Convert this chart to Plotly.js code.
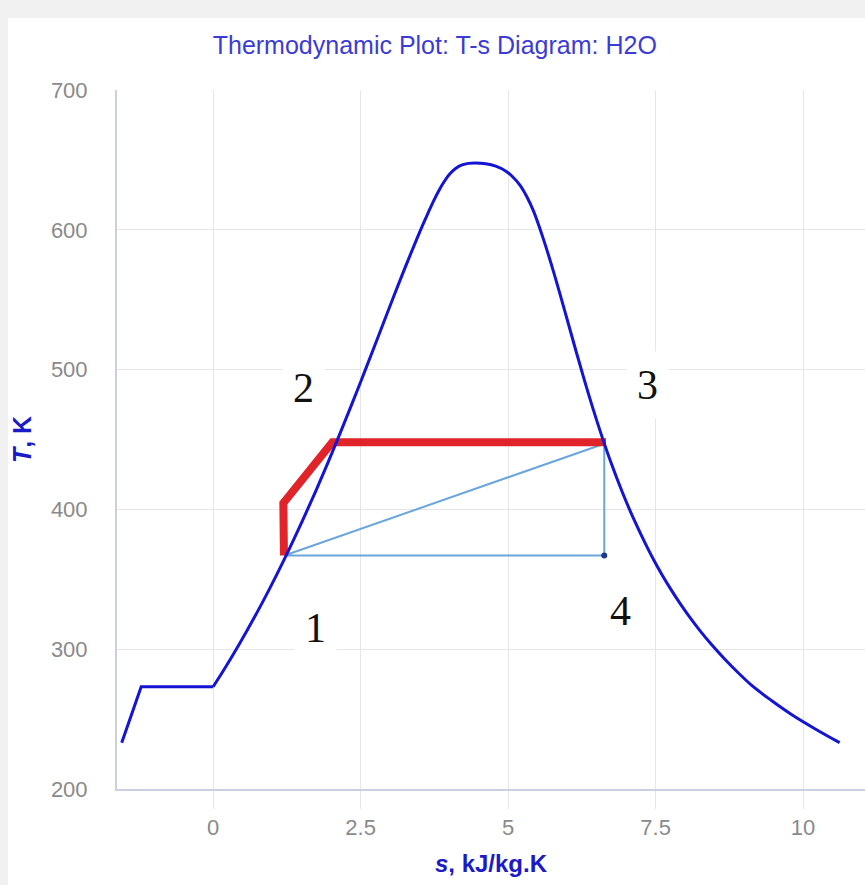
<!DOCTYPE html>
<html><head><meta charset="utf-8">
<script src="https://cdn.plot.ly/plotly-3.0.1.min.js"></script>
<style>
html,body{margin:0;padding:0;background:#f1f1f1;width:865px;height:885px;overflow:hidden}
#chart{position:absolute;left:8px;top:18px;width:857px;height:867px;background:#fff}
</style>
</head><body><div id="chart"></div>
<script>
// Ice heating + melting (solid region)
const iceS = [-1.55, -1.22, 0.0];
const iceT = [233.15, 273.16, 273.16];
// Saturated liquid line (T in K, s in kJ/kg.K)
const liqT = [273.16, 283.15, 293.15, 303.15, 313.15, 323.15, 333.15, 343.15, 353.15, 363.15, 373.15, 393.15, 413.15, 433.15, 453.15, 473.15, 493.15, 513.15, 533.15, 553.15, 573.15, 593.15, 603.2, 612.7, 620.9, 628.3, 634.7, 639.9, 643.9, 646.4, 647.5, 647.8];
const liqS = [0.0, 0.151, 0.2965, 0.4367, 0.5724, 0.7038, 0.8313, 0.9551, 1.0756, 1.1929, 1.3072, 1.5279, 1.7392, 1.9426, 2.1392, 2.3305, 2.5177, 2.702, 2.8849, 3.0683, 3.2552, 3.4494, 3.55, 3.65, 3.74, 3.83, 3.92, 4.01, 4.11, 4.22, 4.33, 4.44];
// Saturated vapour line (from critical point down)
const vapT = [647.8, 647.3, 645.6, 642.3, 637.8, 632.0, 623.5, 613.15, 593.15, 573.15, 553.15, 533.15, 513.15, 493.15, 473.15, 453.15, 433.15, 413.15, 393.15, 373.15, 363.15, 353.15, 343.15, 333.15, 323.15, 313.15, 303.15, 293.15, 283.15, 273.16];
const vapS = [4.44, 4.62, 4.79, 4.95, 5.08, 5.2, 5.32, 5.433, 5.6, 5.748, 5.886, 6.019, 6.152, 6.288, 6.431, 6.583, 6.747, 6.928, 7.129, 7.354, 7.478, 7.611, 7.754, 7.908, 8.075, 8.255, 8.452, 8.666, 8.9, 9.155];
// Sublimation vapour line below triple point
const subT = [263.15, 253.15, 243.15, 233.15];
const subS = [9.47, 9.81, 10.2, 10.62];
// Heating process 1-2-3 (red)
const heatS = [1.2, 1.19, 2.02, 6.66];
const heatT = [367, 404.5, 448, 448];
// Cycle lines 3-1-4-3 (light blue)
const cycleS = [6.63, 1.21, 6.63, 6.63];
const cycleT = [447, 367, 367, 447];
const point4S = [6.63];
const point4T = [367];
// State labels
const stateLabels = ['1', '2', '3', '4'];
const labelS = [1.73, 1.53, 7.36, 6.9];
const labelT = [315, 487, 489, 327];
// Ticks
const xTicks = [0, 2.5, 5, 7.5, 10];
const xTickText = ['0', '2.5', '5', '7.5', '10'];
const yTicks = [200, 300, 400, 500, 600, 700];
const yTickText = ['200', '300', '400', '500', '600', '700'];

const domeS = liqS.concat(vapS.slice(1), subS);
const domeT = liqT.concat(vapT.slice(1), subT);

const sans = '"Liberation Sans", Arial, sans-serif';

const traces = [
  {x: cycleS, y: cycleT, mode: 'lines', line: {color: '#6aa6dd', width: 2}, hoverinfo: 'skip'},
  {x: point4S, y: point4T, mode: 'markers', marker: {color: '#1f3a8a', size: 6}, hoverinfo: 'skip'},
  {x: heatS, y: heatT, mode: 'lines', line: {color: '#e0242a', width: 8}, hoverinfo: 'skip'},
  {x: iceS, y: iceT, mode: 'lines', line: {color: '#1414d4', width: 3}, hoverinfo: 'skip'},
  {x: domeS, y: domeT, mode: 'lines', line: {color: '#1414d4', width: 3, shape: 'spline', smoothing: 1}, hoverinfo: 'skip'}
];

const annotations = stateLabels.map((t, i) => ({
  x: labelS[i], y: labelT[i], xref: 'x', yref: 'y', text: t, showarrow: false,
  font: {family: '"Liberation Serif", "Times New Roman", serif', size: 42, color: '#111'},
  bgcolor: '#ffffff', borderpad: 10
}));

const axisCommon = {
  showgrid: true, gridcolor: '#e6e6e6', gridwidth: 1, zeroline: false,
  showline: true, linecolor: '#c8d0e2', linewidth: 2,
  tickfont: {family: sans, size: 22, color: '#8a8a8a'}
};

const layout = {
  width: 857, height: 867,
  margin: {l: 109, r: 0, t: 72, b: 96},
  paper_bgcolor: '#ffffff', plot_bgcolor: '#ffffff',
  showlegend: false,
  title: {text: 'Thermodynamic Plot: T-s Diagram: H2O',
    font: {family: sans, size: 25, color: '#3c3cd4'},
    xref: 'container', yref: 'container', x: 0.498, y: 0.969, xanchor: 'center', yanchor: 'middle'},
  xaxis: Object.assign({}, axisCommon, {
    range: [-1.63, 11.05], tickmode: 'array', tickvals: xTicks, ticktext: xTickText,
    ticks: 'outside', ticklen: 18, tickcolor: '#e6e6e6',
    title: {text: '<b><i>s</i>, kJ/kg.K</b>', font: {family: sans, size: 24, color: '#1a1ac8'}}
  }),
  yaxis: Object.assign({}, axisCommon, {
    range: [200, 700], tickmode: 'array', tickvals: yTicks, ticktext: yTickText,
    ticks: 'outside', ticklen: 23, tickcolor: 'rgba(0,0,0,0)',
    automargin: true,
    title: {text: '<b><i>T</i>, K</b>', standoff: 16, font: {family: sans, size: 25, color: '#1a1ac8'}}
  }),
  annotations: annotations
};

Plotly.newPlot('chart', traces, layout, {displayModeBar: false, staticPlot: true});
</script>
</body></html>
